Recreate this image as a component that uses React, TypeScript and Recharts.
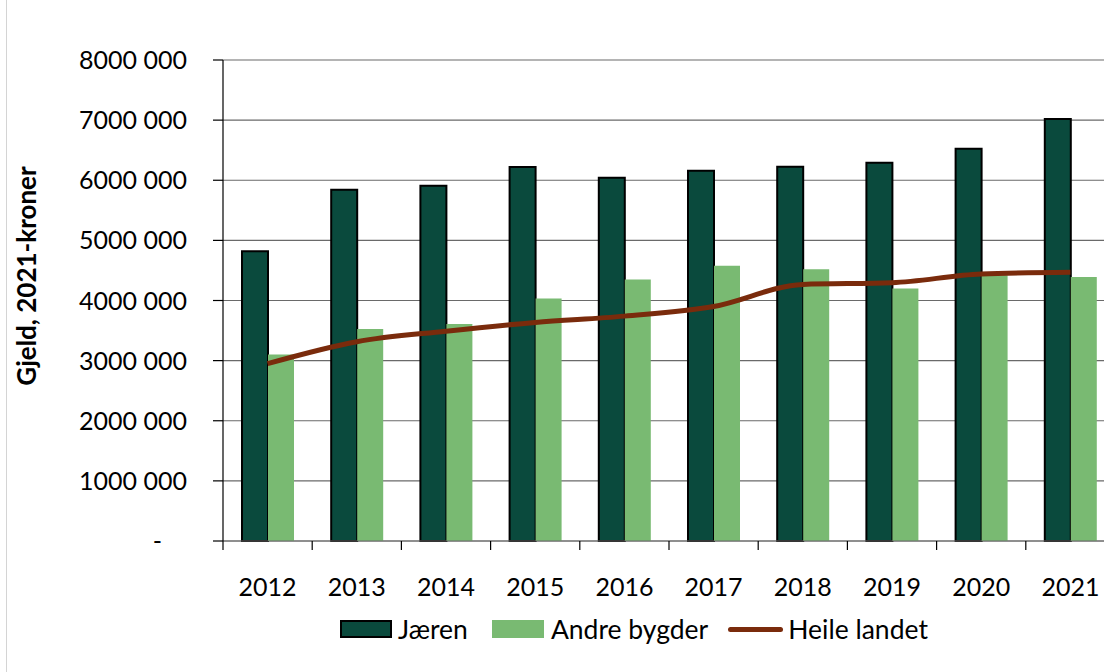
import React from "react";
import {
  ComposedChart,
  Bar,
  Line,
  XAxis,
  YAxis,
  CartesianGrid,
  Legend,
} from "recharts";

const years = ["2012", "2013", "2014", "2015", "2016", "2017", "2018", "2019", "2020", "2021"];
const jaeren = [4820000, 5840000, 5910000, 6220000, 6040000, 6160000, 6225000, 6290000, 6525000, 7020000];
const andreBygder = [3100000, 3525000, 3610000, 4035000, 4350000, 4580000, 4520000, 4200000, 4420000, 4390000];
const heileLandet = [2950000, 3315000, 3490000, 3635000, 3740000, 3900000, 4268000, 4296000, 4440000, 4468000];
const yTicks = [0, 1000000, 2000000, 3000000, 4000000, 5000000, 6000000, 7000000, 8000000];

const data = years.map((year, i) => ({
  year,
  jaeren: jaeren[i],
  andre: andreBygder[i],
  heile: heileLandet[i],
}));

const FONT = "Lato, 'Open Sans', sans-serif";
const DARK = "#0a4a3d";
const LIGHT = "#79ba72";
const BROWN = "#7a2b0c";
const GRID = "#6a6a6a";

const fmt = (v: number) =>
  v === 0 ? "-" : `${Math.floor(v / 1000000)}000 ${String(v % 1000).padStart(3, "0")}`;

function YTick(props: any) {
  const { x, y, payload } = props;
  const zero = payload.value === 0;
  return (
    <text
      x={zero ? x - 25 : x}
      y={y}
      dy="0.36em"
      textAnchor="end"
      fill="#000"
      fontSize={25}
      fontFamily={FONT}
    >
      {fmt(payload.value)}
    </text>
  );
}

function XTick(props: any) {
  const { x, y, payload } = props;
  const half = payload.offset ?? 44.6;
  return (
    <g>
      <line x1={x - half} x2={x - half} y1={y} y2={y + 9} stroke="#000" strokeWidth={1.2} />
      <text x={x} y={y + 55} textAnchor="middle" fill="#000" fontSize={25} fontFamily={FONT}>
        {payload.value}
      </text>
    </g>
  );
}

function LegendBox() {
  const text: React.CSSProperties = {
    fontFamily: FONT,
    fontSize: 26.5,
    color: "#000",
    lineHeight: "30px",
  };
  return (
    <div style={{ display: "flex", alignItems: "center", paddingLeft: 340 }}>
      <div
        style={{
          width: 52,
          height: 18,
          background: DARK,
          border: "2px solid #000",
          boxSizing: "border-box",
          marginRight: 6,
        }}
      />
      <span style={text}>Jæren</span>
      <div style={{ width: 52, height: 18, background: LIGHT, marginLeft: 24, marginRight: 7 }} />
      <span style={text}>Andre bygder</span>
      <div
        style={{
          width: 55,
          height: 5,
          background: BROWN,
          borderRadius: 3,
          marginLeft: 20,
          marginRight: 5,
        }}
      />
      <span style={text}>Heile landet</span>
    </div>
  );
}

export default function App() {
  return (
    <div
      style={{
        position: "absolute",
        left: 0,
        top: 0,
        width: 1104,
        height: 672,
        overflow: "hidden",
        background: "#fff",
      }}
    >
      <div
        style={{ position: "absolute", left: 6, top: 0, width: 1, height: 672, background: "#d4d4d4" }}
      />
      <ComposedChart
        width={1120}
        height={672}
        data={data}
        margin={{ top: 60, right: 5, bottom: 71, left: 0 }}
        barGap={0}
      >
        <CartesianGrid vertical={false} stroke={GRID} strokeWidth={1.2} />
        <XAxis
          dataKey="year"
          height={60}
          axisLine={{ stroke: GRID, strokeWidth: 1.2 }}
          tickLine={false}
          tickSize={0}
          tickMargin={0}
          interval={0}
          tick={<XTick />}
        />
        <YAxis
          width={223}
          domain={[0, 8000000]}
          ticks={yTicks}
          interval={0}
          axisLine={{ stroke: "#000", strokeWidth: 1.2 }}
          tickLine={{ stroke: "#000", strokeWidth: 1.2 }}
          tickSize={10}
          tickMargin={26}
          tick={<YTick />}
          label={{
            content: () => (
              <text
                x={36}
                y={276}
                transform="rotate(-90 36 276)"
                textAnchor="middle"
                fontSize={26}
                fontWeight="bold"
                fontFamily={FONT}
                fill="#000"
              >
                Gjeld, 2021-kroner
              </text>
            ),
          }}
        />
        <Bar
          dataKey="jaeren"
          name="Jæren"
          fill={DARK}
          stroke="#000"
          strokeWidth={2}
          barSize={26}
          isAnimationActive={false}
        />
        <Bar dataKey="andre" name="Andre bygder" fill={LIGHT} barSize={26} isAnimationActive={false} />
        <Line
          dataKey="heile"
          name="Heile landet"
          type="monotone"
          stroke={BROWN}
          strokeWidth={5}
          dot={false}
          isAnimationActive={false}
        />
        <Legend
          layout="horizontal"
          verticalAlign="middle"
          align="center"
          wrapperStyle={{ top: 614, left: 0, width: 1104 }}
          content={<LegendBox />}
        />
      </ComposedChart>
    </div>
  );
}
